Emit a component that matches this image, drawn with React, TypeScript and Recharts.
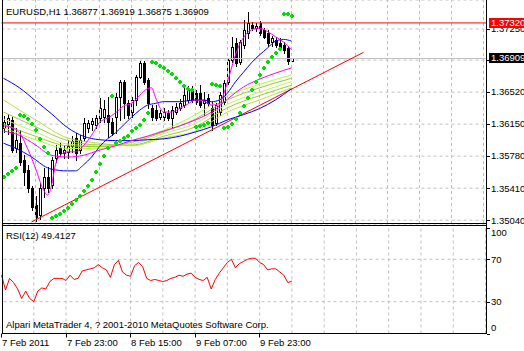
import React from 'react';
import {
  ComposedChart,
  Bar,
  Line,
  XAxis,
  YAxis,
  CartesianGrid,
  ReferenceLine,
} from 'recharts';

const W = 524;
const H = 351;
const FONT = "'Liberation Sans', Arial, sans-serif";
const FS = 9.5;
const GRID = '#c0c0c0';

// EURUSD H1, bar 0 = 7 Feb 2011 07:00, one bar per hour
const opens = [
  1.3611, 1.3615, 1.3620, 1.3587, 1.3593, 1.3574, 1.3562, 1.3541, 1.3522, 1.3510,
  1.3541, 1.3554, 1.3545, 1.3576, 1.3587, 1.3582, 1.3583, 1.3590, 1.3599, 1.3585,
  1.3599, 1.3611, 1.3615, 1.3614, 1.3622, 1.3623, 1.3626, 1.3617, 1.3623, 1.3646,
  1.3664, 1.3639, 1.3629, 1.3643, 1.3669, 1.3686, 1.3666, 1.3634, 1.3631, 1.3623,
  1.3623, 1.3628, 1.3622, 1.3629, 1.3634, 1.3637, 1.3643, 1.3654, 1.3651, 1.3651,
  1.3639, 1.3645, 1.3634, 1.3616, 1.3629, 1.3641, 1.3664, 1.3689, 1.3709, 1.3687,
  1.3707, 1.3720, 1.3730, 1.3726, 1.3732, 1.3724, 1.3720, 1.3710, 1.3712, 1.3709,
  1.3707, 1.3703, 1.36877,
];
const highs = [
  1.3624, 1.3627, 1.3623, 1.3611, 1.3608, 1.3579, 1.3568, 1.3544, 1.3532, 1.3547,
  1.3564, 1.3566, 1.3577, 1.3591, 1.3593, 1.3591, 1.3597, 1.3601, 1.3605, 1.3602,
  1.3622, 1.3620, 1.3622, 1.3626, 1.3645, 1.3643, 1.3646, 1.3622, 1.3651, 1.3666,
  1.3666, 1.3643, 1.3646, 1.3672, 1.3688, 1.3688, 1.3668, 1.3637, 1.3637, 1.3631,
  1.3634, 1.3631, 1.3636, 1.3639, 1.3644, 1.3657, 1.3659, 1.3659, 1.3654, 1.3660,
  1.3652, 1.3650, 1.3641, 1.3639, 1.3652, 1.3666, 1.3692, 1.3716, 1.3715, 1.3712,
  1.3735, 1.3745, 1.3733, 1.3732, 1.3734, 1.3726, 1.3724, 1.3717, 1.3716, 1.3715,
  1.3710, 1.3705, 1.36919,
];
const lows = [
  1.3606, 1.3604, 1.3583, 1.3583, 1.3568, 1.3545, 1.3537, 1.3516, 1.3503, 1.3505,
  1.3531, 1.3537, 1.3541, 1.3571, 1.3578, 1.3576, 1.3576, 1.3583, 1.3574, 1.3582,
  1.3597, 1.3606, 1.3608, 1.3611, 1.3617, 1.3617, 1.3600, 1.3602, 1.3605, 1.3620,
  1.3622, 1.3622, 1.3623, 1.3637, 1.3668, 1.3661, 1.3634, 1.3620, 1.3620, 1.3621,
  1.3620, 1.3620, 1.3611, 1.3627, 1.3631, 1.3635, 1.3641, 1.3641, 1.3638, 1.3635,
  1.3626, 1.3636, 1.3608, 1.3614, 1.3626, 1.3638, 1.3661, 1.3687, 1.3682, 1.3685,
  1.3703, 1.3715, 1.3724, 1.3723, 1.3718, 1.3715, 1.3705, 1.3705, 1.3704, 1.3701,
  1.3697, 1.3685, 1.36875,
];
const closes = [
  1.3617, 1.3622, 1.3585, 1.3597, 1.3571, 1.3560, 1.3541, 1.3519, 1.3508, 1.3541,
  1.3554, 1.3541, 1.3574, 1.3585, 1.3582, 1.3585, 1.3590, 1.3596, 1.3582, 1.3597,
  1.3616, 1.3616, 1.3619, 1.3622, 1.3634, 1.3633, 1.3617, 1.3605, 1.3646, 1.3664,
  1.3639, 1.3626, 1.3643, 1.3669, 1.3686, 1.3664, 1.3639, 1.3623, 1.3622, 1.3628,
  1.3629, 1.3622, 1.3631, 1.3635, 1.3639, 1.3649, 1.3657, 1.3643, 1.3641, 1.3637,
  1.3643, 1.3639, 1.3614, 1.3637, 1.3649, 1.3663, 1.3689, 1.3704, 1.3686, 1.3710,
  1.3724, 1.3732, 1.3726, 1.3728, 1.3720, 1.3716, 1.3709, 1.3715, 1.3707, 1.3703,
  1.3701, 1.3688, 1.36909,
];

// Parabolic SAR, one value per bar
const sarValues = [
  1.3554, 1.3557, 1.3561, 1.3564, 1.3626, 1.3624, 1.3621, 1.3615, 1.3608, 1.3598,
  1.3589, 1.3582, 1.3507, 1.3509, 1.3511, 1.3515, 1.3518, 1.3523, 1.3527, 1.3532,
  1.3538, 1.3544, 1.3550, 1.3560, 1.3569, 1.3578, 1.3587, 1.3648, 1.3593, 1.3596,
  1.3599, 1.3601, 1.3607, 1.3611, 1.3614, 1.3620, 1.3628, 1.3687, 1.3686, 1.3682,
  1.3680, 1.3676, 1.3673, 1.3668, 1.3664, 1.3659, 1.3656, 1.3654, 1.3612, 1.3613,
  1.3614, 1.3616, 1.3661, 1.3660, 1.3659, 1.3611, 1.3612, 1.3615, 1.3621, 1.3628,
  1.3636, 1.3645, 1.3654, 1.3664, 1.3672, 1.3680, 1.3687, 1.3693, 1.3697, 1.3702,
  1.3742, 1.3742, 1.3740,
];

// RSI(12), one value per bar
const rsiValues = [
  55, 41, 52, 48, 42, 33, 40, 33, 30, 40,
  43, 42, 49, 52, 52, 52, 50, 55, 51, 52,
  59, 60, 61, 62, 65, 62, 60, 53, 65, 69,
  58, 55, 54, 64, 67, 63, 52, 50, 51, 50,
  49, 50, 52, 53, 55, 54, 56, 57, 53, 51,
  50, 53, 42, 51, 57, 62, 67, 70, 62, 66,
  68, 70, 71, 71, 67, 65, 60, 61, 61, 58,
  55, 48, 49.4127,
];

// moving averages read at selected bars: [bar, price]
const maFastPts: [number, number][] = [
  [0, 1.3613], [2, 1.3611], [4, 1.3605], [6, 1.3587], [8, 1.3564], [10, 1.3539],
  [11, 1.3533], [12, 1.3544], [13, 1.3568], [14, 1.3578], [16, 1.3583], [18, 1.3583],
  [20, 1.3590], [22, 1.3602], [24, 1.3617], [26, 1.3622], [28, 1.3628], [30, 1.3636],
  [32, 1.3639], [34, 1.3648], [36, 1.3656], [37, 1.3657], [38, 1.3646], [39, 1.3635],
  [40, 1.3629], [42, 1.3629], [44, 1.3633], [46, 1.3638], [48, 1.3643], [50, 1.3642],
  [52, 1.3637], [54, 1.3639], [55, 1.3649], [56, 1.3664], [57, 1.3680], [58, 1.3695],
  [59, 1.3707], [60, 1.3715], [62, 1.3724], [64, 1.3726], [66, 1.3722], [68, 1.3716],
  [70, 1.3710], [72, 1.3701],
];
const maSlowPts: [number, number][] = [
  [0, 1.3607], [4, 1.3602], [8, 1.3591], [12, 1.3579], [16, 1.3577], [20, 1.3579],
  [24, 1.3585], [28, 1.3590], [32, 1.3596], [36, 1.3601], [40, 1.3607], [44, 1.3613],
  [48, 1.3620], [52, 1.3629], [56, 1.3644], [60, 1.3658], [64, 1.3667], [68, 1.3674],
  [72, 1.3680],
];
const blueSlowPts: [number, number][] = [
  [0, 1.3668], [4, 1.3657], [8, 1.3642], [12, 1.3627], [16, 1.3611], [20, 1.3601],
  [24, 1.3597], [28, 1.3596], [32, 1.3596], [36, 1.3597], [40, 1.3598], [44, 1.3601],
  [48, 1.3606], [52, 1.3612], [56, 1.3620], [60, 1.3626], [64, 1.3633], [68, 1.3643],
  [72, 1.3656],
];
const blueMidPts: [number, number][] = [
  [0, 1.3593], [4, 1.3585], [8, 1.3574], [10, 1.3567], [12, 1.3563], [16, 1.3561],
  [18, 1.3561], [20, 1.3568], [22, 1.3577], [24, 1.3589], [26, 1.3598], [28, 1.3605],
  [30, 1.3614], [32, 1.3623], [34, 1.3631], [36, 1.3637], [38, 1.3639], [40, 1.3641],
  [44, 1.3641], [48, 1.3643], [50, 1.3643], [52, 1.3641], [54, 1.3643], [56, 1.3651],
  [58, 1.3664], [60, 1.3675], [62, 1.3686], [64, 1.3695], [66, 1.3703], [68, 1.3711],
  [70, 1.3713], [72, 1.3711],
];
const ribbonBars = [0, 8, 16, 24, 32, 40, 48, 56, 64, 72];
const ribbon1 = [1.3611, 1.3597, 1.3587, 1.3587, 1.3596, 1.3608, 1.3626, 1.3648, 1.3661, 1.3672];
const ribbon2 = [1.3615, 1.3601, 1.3590, 1.3589, 1.3594, 1.3606, 1.3621, 1.3643, 1.3657, 1.3668];
const ribbon3 = [1.3621, 1.3606, 1.3592, 1.3590, 1.3592, 1.3604, 1.3616, 1.3638, 1.3652, 1.3664];
const ribbon4 = [1.3629, 1.3612, 1.3596, 1.3591, 1.3591, 1.3601, 1.3612, 1.3634, 1.3648, 1.3660];
const ribbon5 = [1.3643, 1.3620, 1.3599, 1.3593, 1.3590, 1.3599, 1.3607, 1.3629, 1.3643, 1.3657];
const ribbonColors = ['#adff2f', '#9acd32', '#c4f25a', '#9acd32', '#b8e048'];

// support trendline anchors: [bar, price]
const trendPts: [number, number][] = [[7, 1.3502], [90, 1.3698]];

const alertLevel = 1.3732;
const bidLevel = 1.36909;
const SLOTS = 121;
const PRICE_DOMAIN: [number, number] = [1.34996, 1.37585];

const priceTicks = [1.3504, 1.3541, 1.3578, 1.3615, 1.3652, 1.3689, 1.3725];
const rsiTicks = [0, 30, 70, 100];
const rsiLevels = [30, 70];
const timeTicks = [0, 16, 32, 48, 64];
const timeLabels = ['7 Feb 2011', '7 Feb 23:00', '8 Feb 15:00', '9 Feb 07:00', '9 Feb 23:00'];
const gridBars = [8, 16, 24, 32, 40, 48, 56, 64, 72, 80, 88, 96, 104, 112, 120];

type Row = Record<string, number | null>;

const rows: Row[] = Array.from({ length: SLOTS }, (_, k) => ({
  k,
  open: opens[k] ?? null,
  high: highs[k] ?? null,
  low: lows[k] ?? null,
  close: closes[k] ?? null,
  sar: sarValues[k] ?? null,
  rsi: rsiValues[k] ?? null,
}));
const put = (key: string, pts: [number, number][]) => {
  pts.forEach(([k, v]) => {
    rows[k][key] = v;
  });
};
put('maFast', maFastPts);
put('maSlow', maSlowPts);
put('blueSlow', blueSlowPts);
put('blueMid', blueMidPts);
put('trend', trendPts);
[ribbon1, ribbon2, ribbon3, ribbon4, ribbon5].forEach((vals, i) =>
  put(`rib${i}`, vals.map((v, j) => [ribbonBars[j], v] as [number, number]))
);

function Candle(props: any) {
  const { x, y, width, height, payload } = props;
  if (!payload || payload.high == null) return null;
  const { open, high, low, close } = payload;
  const top = Math.min(y, y + height);
  const h = Math.abs(height);
  const col = Math.floor(x + width / 2);
  const span = high - low;
  const py = (v: number) => (span > 0 ? top + ((high - v) / span) * h : top);
  const yH = Math.round(top);
  const yL = Math.round(top + h);
  const bTop = Math.round(py(Math.max(open, close)));
  const bBot = Math.round(py(Math.min(open, close)));
  const up = close >= open;
  return (
    <g>
      <rect x={col} y={yH} width={1} height={Math.max(1, yL - yH + 1)} fill="#000" />
      {up ? (
        <rect x={col - 0.5} y={bTop + 0.5} width={2} height={Math.max(1, bBot - bTop)} fill="#fff" stroke="#000" strokeWidth={1} />
      ) : (
        <rect x={col - 1} y={bTop} width={3} height={Math.max(1, bBot - bTop + 1)} fill="#000" />
      )}
    </g>
  );
}

function SarDot(props: any) {
  const { cx, cy, value, index } = props;
  if (value == null || cx == null || cy == null) return <g key={`s${index}`} />;
  const c = Math.floor(cx);
  const r = Math.round(cy);
  return (
    <g key={`s${index}`}>
      <rect x={c - 1} y={r - 1} width={4} height={2} fill="#00e000" />
      <rect x={c} y={r - 2} width={2} height={4} fill="#00e000" />
    </g>
  );
}

function PriceTick(props: any) {
  const { x, y, payload } = props;
  const x0 = Math.round(x);
  const yy = Math.round(y) + 0.5;
  return (
    <g>
      <line x1={x0} x2={x0 + 3} y1={yy} y2={yy} stroke="#000" />
      <text x={x0 + 4} y={y} dy="0.35em" fontSize={FS} fontFamily={FONT} fill="#000">
        {Number(payload.value).toFixed(5)}
      </text>
    </g>
  );
}

function RsiTick(props: any) {
  const { x, y, payload } = props;
  const x0 = Math.round(x);
  const yy = Math.round(y) + 0.5;
  const ty = Math.min(Math.max(y, 233), 328);
  return (
    <g>
      <line x1={x0} x2={x0 + 3} y1={yy} y2={yy} stroke="#000" />
      <text x={x0 + 4} y={ty} dy="0.35em" fontSize={FS} fontFamily={FONT} fill="#000">
        {payload.value}
      </text>
    </g>
  );
}

function TimeTick(props: any) {
  const { x, y, payload } = props;
  const i = timeTicks.indexOf(payload.value);
  if (i < 0) return null;
  const x0 = Math.floor(x);
  return (
    <g>
      <line x1={x0 + 0.5} x2={x0 + 0.5} y1={y} y2={y + 4} stroke="#000" />
      <text x={x0 + 1} y={y + 12} fontSize={FS} fontFamily={FONT} fill="#000">
        {timeLabels[i]}
      </text>
    </g>
  );
}

function PriceBox(props: any) {
  const { viewBox, fill, text } = props;
  if (!viewBox) return null;
  const bx = viewBox.x + viewBox.width + 2.5;
  const by = Math.round(viewBox.y) - 5;
  return (
    <g>
      <rect x={bx} y={by} width={40} height={10} fill={fill} />
      <text x={bx + 2} y={by + 5} dy="0.35em" fontSize={FS} fontFamily={FONT} fill="#fff">
        {text}
      </text>
    </g>
  );
}

const frame = (left: number, top: number, width: number, height: number): React.CSSProperties => ({
  position: 'absolute',
  left,
  top,
  width,
  height,
  background: '#000',
});

const layer: React.CSSProperties = { position: 'absolute', left: 0, top: 0 };
const mainMargin = { top: 0, right: 0, bottom: 12, left: 1.5 };

export default function App() {
  return (
    <div style={{ position: 'absolute', left: 0, top: 0, width: W, height: H, background: '#fff', overflow: 'hidden' }}>
      <div style={layer}>
        <ComposedChart width={W} height={236} data={rows} margin={mainMargin}>
          <CartesianGrid vertical={false} stroke={GRID} strokeDasharray="3 3" />
          <XAxis dataKey="k" type="category" hide padding={{ left: 0, right: 1 }} />
          <YAxis
            orientation="right"
            width={37.5}
            domain={PRICE_DOMAIN}
            ticks={priceTicks}
            interval={0}
            allowDataOverflow
            axisLine={false}
            tickLine={false}
            tickSize={0}
            tickMargin={0}
            tick={<PriceTick />}
          />
          {gridBars.map((k) => (
            <ReferenceLine key={`g${k}`} x={k} stroke={GRID} strokeDasharray="3 3" />
          ))}
          <ReferenceLine y={bidLevel} stroke={GRID} />
          <Bar
            dataKey={(d: any) => (d.high == null ? null : [d.low, d.high])}
            barSize={3}
            shape={(p: any) => <Candle {...p} />}
            isAnimationActive={false}
          />
          <Line dataKey="trend" stroke="#ff0000" strokeWidth={1} dot={false} activeDot={false} connectNulls isAnimationActive={false} />
          {[4, 3, 2, 1, 0].map((i) => (
            <Line
              key={`rib${i}`}
              type="monotone"
              dataKey={`rib${i}`}
              stroke={ribbonColors[i]}
              strokeWidth={1}
              dot={false}
              activeDot={false}
              connectNulls
              isAnimationActive={false}
            />
          ))}
          <Line type="monotone" dataKey="blueSlow" stroke="#0000ff" strokeWidth={1} dot={false} activeDot={false} connectNulls isAnimationActive={false} />
          <Line type="monotone" dataKey="blueMid" stroke="#0000ff" strokeWidth={1} dot={false} activeDot={false} connectNulls isAnimationActive={false} />
          <Line type="monotone" dataKey="maSlow" stroke="#ff00ff" strokeWidth={1} dot={false} activeDot={false} connectNulls isAnimationActive={false} />
          <Line type="monotone" dataKey="maFast" stroke="#ff00ff" strokeWidth={1} dot={false} activeDot={false} connectNulls isAnimationActive={false} />
          <Line dataKey="sar" stroke="none" dot={(p: any) => <SarDot key={`s${p.index}`} {...p} />} activeDot={false} isAnimationActive={false} />
        </ComposedChart>
      </div>
      {/* price boxes on top of the axis labels */}
      <div style={layer}>
        <ComposedChart width={W} height={236} data={rows} margin={mainMargin}>
          <XAxis dataKey="k" type="category" hide padding={{ left: 0, right: 1 }} />
          <YAxis orientation="right" width={37.5} domain={PRICE_DOMAIN} allowDataOverflow axisLine={false} tickLine={false} tick={false} />
          <ReferenceLine y={bidLevel} stroke="none" label={<PriceBox fill="#000" text={bidLevel.toFixed(5)} />} />
          <ReferenceLine y={alertLevel} stroke="#ff0000" label={<PriceBox fill="#ff0000" text={alertLevel.toFixed(5)} />} />
        </ComposedChart>
      </div>
      <div style={layer}>
        <ComposedChart width={W} height={H} data={rows} margin={{ top: 227.5, right: 0, bottom: 0, left: 1.5 }}>
          <XAxis
            dataKey="k"
            type="category"
            padding={{ left: 0, right: 1 }}
            height={17.5}
            ticks={timeTicks}
            interval={0}
            axisLine={false}
            tickLine={false}
            tickSize={0}
            tickMargin={0}
            tick={<TimeTick />}
          />
          <YAxis
            orientation="right"
            width={37.5}
            domain={[0, 100]}
            ticks={rsiTicks}
            interval={0}
            axisLine={false}
            tickLine={false}
            tickSize={0}
            tickMargin={0}
            tick={<RsiTick />}
          />
          {gridBars.map((k) => (
            <ReferenceLine key={`rg${k}`} x={k} stroke={GRID} strokeDasharray="3 3" />
          ))}
          {rsiLevels.map((v) => (
            <ReferenceLine key={`rl${v}`} y={v} stroke={GRID} strokeDasharray="3 3" />
          ))}
          <Line dataKey="rsi" stroke="#ff0000" strokeWidth={1} dot={false} activeDot={false} isAnimationActive={false} />
        </ComposedChart>
      </div>
      <div style={frame(2, 0, 1, 334)} />
      <div style={frame(486, 0, 1, 334)} />
      <div style={frame(2, 223, 485, 1)} />
      <div style={frame(2, 225, 485, 1)} />
      <div style={frame(2, 333, 485, 1)} />
      <svg width={W} height={H} style={{ position: 'absolute', left: 0, top: 0, pointerEvents: 'none' }}>
        <text x={6} y={14.5} fontSize={FS} fontFamily={FONT} fill="#000">
          {`EURUSD,H1  ${opens[72].toFixed(5)} ${highs[72].toFixed(5)} ${lows[72].toFixed(5)} ${closes[72].toFixed(5)}`}
        </text>
        <text x={6} y={238.5} fontSize={FS} fontFamily={FONT} fill="#000">
          {`RSI(12) ${rsiValues[72].toFixed(4)}`}
        </text>
        <text x={6} y={328} fontSize={FS} fontFamily={FONT} fill="#000">
          Alpari MetaTrader 4, ? 2001-2010 MetaQuotes Software Corp.
        </text>
      </svg>
    </div>
  );
}
